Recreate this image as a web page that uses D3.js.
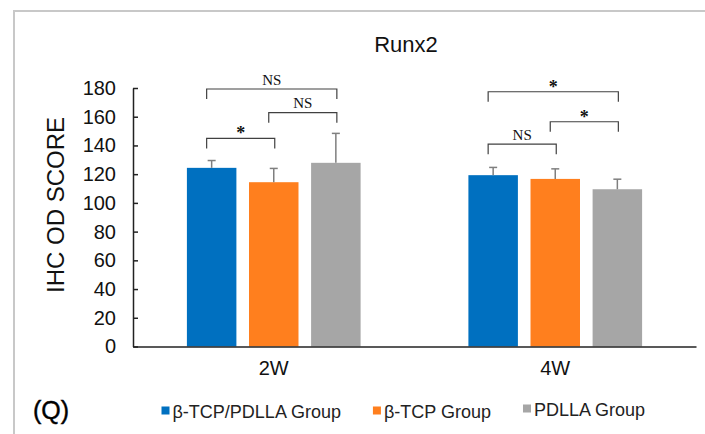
<!DOCTYPE html>
<html lang="en">
<head>
    <meta charset="UTF-8">
    <title>Runx2</title>
    <script src="https://d3js.org/d3.v7.min.js"></script>
    <style>
        body { margin: 0; background: #fff; font-family: "Liberation Sans", Arial, sans-serif; }
        .sig-line { fill: none; stroke: #404040; stroke-width: 1.2; }
        .err { stroke: #7f7f7f; stroke-width: 1.5; }
    </style>
</head>
<body>
    <svg width="705" height="434"></svg>
    <script>
        const groups = ["2W", "4W"];
        const seriesNames = ["β-TCP/PDLLA Group", "β-TCP Group", "PDLLA Group"];
        const seriesColors = ["#0070C0", "#FF7F1E", "#A6A6A6"];
        const tcpPdllaMean = [124.4, 119.3];
        const tcpMean = [114.4, 116.7];
        const pdllaMean = [127.9, 109.5];
        const tcpPdllaErr = [5.1, 5.4];
        const tcpErr = [9.6, 7.0];
        const pdllaErr = [20.5, 7.0];
        const yTicks = [0, 20, 40, 60, 80, 100, 120, 140, 160, 180];
        // significance brackets: group, from bar, to bar, level (score units), label
        const brackets = [
            ["2W", 0, 2, 179.3, "NS"],
            ["2W", 1, 2, 162.8, "NS"],
            ["2W", 0, 1, 144.9, "*"],
            ["4W", 0, 2, 177.4, "*"],
            ["4W", 1, 2, 156.5, "*"],
            ["4W", 0, 1, 140.9, "NS"]
        ];

        const means = [tcpPdllaMean, tcpMean, pdllaMean];
        const errs = [tcpPdllaErr, tcpErr, pdllaErr];
        const data = [];
        groups.forEach((g, gi) => {
            seriesNames.forEach((s, si) => {
                data.push({ group: g, series: s, idx: si, value: means[si][gi], err: errs[si][gi] });
            });
        });

        const svg = d3.select("svg");

        // outer frame
        svg.append("rect")
            .attr("x", 14).attr("y", 11)
            .attr("width", 720).attr("height", 450)
            .attr("fill", "none")
            .attr("stroke", "#c8c8c8")
            .attr("stroke-width", 2);

        const x0 = d3.scaleBand().domain(groups).range([133, 696]).padding(0);
        const x1 = d3.scaleBand().domain(seriesNames).range([0, x0.bandwidth()])
            .paddingInner(0.203).paddingOuter(0.868);
        const y = d3.scaleLinear().domain([0, 180]).range([346.5, 88]);
        const color = d3.scaleOrdinal(seriesNames, seriesColors);

        const barCenter = (g, i) => x0(g) + x1(seriesNames[i]) + x1.bandwidth() / 2;

        // title
        svg.append("text")
            .attr("x", 406).attr("y", 52)
            .attr("text-anchor", "middle")
            .style("font-size", "22px")
            .attr("fill", "#111")
            .text("Runx2");

        // bars
        svg.selectAll(".bar")
            .data(data)
            .enter().append("rect")
            .attr("class", "bar")
            .attr("x", d => x0(d.group) + x1(d.series))
            .attr("y", d => y(d.value))
            .attr("width", x1.bandwidth())
            .attr("height", d => y(0) - y(d.value))
            .attr("fill", d => color(d.series));

        // error bars (upper only)
        const eb = svg.selectAll(".errbar")
            .data(data)
            .enter().append("g")
            .attr("class", "errbar");
        eb.append("line")
            .attr("class", "err")
            .attr("x1", d => barCenter(d.group, d.idx))
            .attr("x2", d => barCenter(d.group, d.idx))
            .attr("y1", d => y(d.value))
            .attr("y2", d => y(d.value + d.err));
        eb.append("line")
            .attr("class", "err")
            .attr("x1", d => barCenter(d.group, d.idx) - 4)
            .attr("x2", d => barCenter(d.group, d.idx) + 4)
            .attr("y1", d => y(d.value + d.err))
            .attr("y2", d => y(d.value + d.err));

        // y axis
        const yAxis = svg.append("g")
            .attr("transform", "translate(133,0)")
            .call(d3.axisLeft(y).tickValues(yTicks).tickSizeInner(-5).tickSizeOuter(0).tickPadding(17));
        yAxis.selectAll("path, line").attr("stroke", "#222").attr("stroke-width", 1.5);
        yAxis.selectAll("text")
            .style("font-size", "20px")
            .style("font-family", "'Liberation Sans', Arial, sans-serif")
            .attr("fill", "#111");

        // x axis
        const xAxis = svg.append("g")
            .attr("transform", `translate(0,${y(0)})`)
            .call(d3.axisBottom(x0).tickSize(0).tickPadding(14));
        xAxis.select(".domain").attr("stroke", "#222").attr("stroke-width", 1.5);
        xAxis.selectAll("text")
            .style("font-size", "20px")
            .style("font-family", "'Liberation Sans', Arial, sans-serif")
            .attr("fill", "#111");

        // y label
        svg.append("text")
            .attr("transform", "translate(63.5,205) rotate(-90)")
            .attr("text-anchor", "middle")
            .style("font-size", "24px")
            .attr("fill", "#111")
            .text("IHC OD SCORE");

        // significance brackets
        const legLen = 10;
        brackets.forEach(([g, a, b, lvl, label]) => {
            const xa = barCenter(g, a) - 5;
            const xb = barCenter(g, b) + 1;
            const yl = y(lvl);
            svg.append("path")
                .attr("class", "sig-line")
                .attr("d", `M${xa},${yl + legLen}V${yl}H${xb}V${yl + legLen}`);
            const star = label === "*";
            svg.append("text")
                .attr("x", (xa + xb) / 2)
                .attr("y", star ? yl + 1 : yl - 4.5)
                .attr("text-anchor", "middle")
                .style("font-family", "'Liberation Serif', 'Times New Roman', serif")
                .style("font-size", star ? "18px" : "15px")
                .style("font-weight", star ? "bold" : "normal")
                .attr("fill", "#111")
                .text(label);
        });

        // panel letter
        svg.append("text")
            .attr("x", 33).attr("y", 419)
            .style("font-size", "25px")
            .attr("fill", "#000")
            .attr("stroke", "#000")
            .attr("stroke-width", 0.4)
            .text("(Q)");

        // legend
        const legendY = [418, 418, 416];
        let lx = 161.5;
        seriesNames.forEach((s, i) => {
            const g = svg.append("g");
            g.append("rect")
                .attr("x", lx).attr("y", legendY[i] - 11.5)
                .attr("width", 8).attr("height", 8)
                .attr("fill", seriesColors[i]);
            const t = g.append("text")
                .attr("x", lx + 11).attr("y", legendY[i])
                .style("font-size", "18px")
                .attr("fill", "#222")
                .text(s);
            lx += 11 + t.node().getComputedTextLength() + 32;
        });
    </script>
</body>
</html>
